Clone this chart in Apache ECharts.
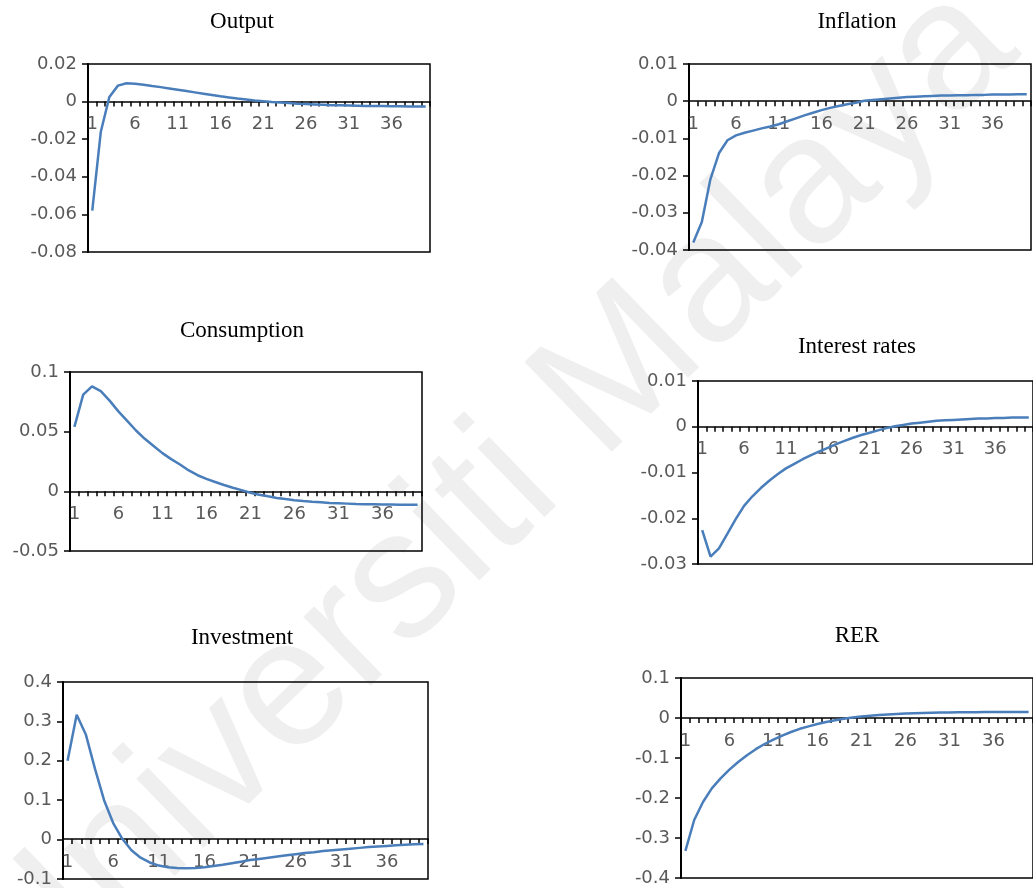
<!DOCTYPE html>
<html>
<head>
<meta charset="utf-8">
<title>Impulse responses</title>
<script src="https://cdn.jsdelivr.net/npm/echarts@6/dist/echarts.min.js"></script>
<style>
    html, body { margin: 0; padding: 0; background: #fff; }
    #main { width: 1033px; height: 888px; }
</style>
</head>
<body>
<div id="main"></div>
<script>
// periods 1..40
var periods = [];
for (var p = 1; p <= 40; p++) periods.push(p);

var titles = ['Output', 'Inflation', 'Consumption', 'Interest rates', 'Investment', 'RER'];

var output = [-0.058, -0.016, 0.0025, 0.0085, 0.0098, 0.0095, 0.009, 0.0083, 0.0077, 0.007,
    0.0063, 0.0056, 0.0049, 0.0042, 0.0035, 0.0028, 0.0022, 0.0016, 0.0011, 0.0006,
    0.0002, -0.0002, -0.0005, -0.0008, -0.0011, -0.0013, -0.0015, -0.0017, -0.0019, -0.002,
    -0.0021, -0.0022, -0.0023, -0.0024, -0.0024, -0.0025, -0.0025, -0.0026, -0.0026, -0.0026];

var inflation = [-0.038, -0.0325, -0.021, -0.014, -0.0105, -0.0092, -0.0085, -0.0079, -0.0073, -0.0068,
    -0.0062, -0.0054, -0.0046, -0.0038, -0.0031, -0.0024, -0.0018, -0.0013, -0.0008, -0.0004,
    0.0001, 0.0003, 0.0005, 0.0007, 0.0009, 0.0011, 0.0012, 0.0013, 0.0014, 0.0015,
    0.0015, 0.0016, 0.0016, 0.0017, 0.0017, 0.0018, 0.0018, 0.0018, 0.0019, 0.0019];

var consumption = [0.054, 0.081, 0.088, 0.084, 0.076, 0.067, 0.059, 0.051, 0.044, 0.038,
    0.032, 0.027, 0.0225, 0.0175, 0.0135, 0.0105, 0.0078, 0.0053, 0.003, 0.001,
    -0.0012, -0.0028, -0.0042, -0.0055, -0.0065, -0.0074, -0.0081, -0.0087, -0.0092, -0.0097,
    -0.01, -0.0103, -0.0106, -0.0108, -0.0109, -0.011, -0.0111, -0.0112, -0.0112, -0.0113];

var interest = [-0.0226, -0.0284, -0.0266, -0.0234, -0.0202, -0.0173, -0.0152, -0.0134, -0.0118, -0.0104,
    -0.0091, -0.0081, -0.0071, -0.0062, -0.0054, -0.0046, -0.0038, -0.0031, -0.0024, -0.0018,
    -0.0013, -0.0008, -0.0003, 0.0001, 0.0004, 0.0007, 0.0009, 0.0011, 0.0013, 0.0014,
    0.0015, 0.0016, 0.0017, 0.0018, 0.0018, 0.0019, 0.0019, 0.002, 0.002, 0.002];

var investment = [0.2, 0.317, 0.267, 0.18, 0.1, 0.042, 0.002, -0.027, -0.046, -0.058,
    -0.066, -0.07, -0.072, -0.0725, -0.072, -0.07, -0.067, -0.064, -0.06, -0.056,
    -0.052, -0.049, -0.046, -0.043, -0.04, -0.037, -0.034, -0.032, -0.029, -0.027,
    -0.025, -0.023, -0.021, -0.019, -0.0175, -0.016, -0.0145, -0.013, -0.012, -0.011];

var rer = [-0.332, -0.255, -0.21, -0.176, -0.151, -0.129, -0.11, -0.093, -0.078, -0.065,
    -0.054, -0.044, -0.035, -0.027, -0.021, -0.015, -0.01, -0.0055, -0.002, 0.001,
    0.0035, 0.0055, 0.0072, 0.0087, 0.01, 0.011, 0.0118, 0.0125, 0.013, 0.0135,
    0.0138, 0.0141, 0.0143, 0.0145, 0.0147, 0.0148, 0.0149, 0.015, 0.015, 0.015];

var seriesData = [output, inflation, consumption, interest, investment, rer];

// y axis ranges [min, max, step]
var yMin = [-0.08, -0.04, -0.05, -0.03, -0.1, -0.4];
var yMax = [0.02, 0.01, 0.1, 0.01, 0.4, 0.1];
var yStep = [0.02, 0.01, 0.05, 0.01, 0.1, 0.1];

// panel boxes: left, top, width, height, title x, title y
var boxes = [
    [88, 64, 342, 188, 242, 22],
    [689, 64, 342, 186, 857, 22],
    [70, 372, 352, 179, 242, 331],
    [698, 381, 342, 183, 857, 347],
    [63, 682, 365, 200, 242, 638],
    [681, 678, 358, 200, 857, 636]
];

var labelColor = '#595959';
var labelFont = 'DejaVu Sans';

var grids = [], xAxes = [], yAxes = [], series = [], graphics = [];

// watermark
graphics.push({
    type: 'text',
    x: 490,
    y: 500,
    rotation: 0.77,
    z: -10,
    silent: true,
    style: {
        text: 'Universiti Malaya',
        fill: '#efefef',
        font: '182px "Liberation Sans"',
        textAlign: 'center',
        textVerticalAlign: 'middle'
    }
});

for (var i = 0; i < 6; i++) {
    var b = boxes[i];
    // the category axis sits on the zero line, labels included
    var zeroOffset = -b[3] * (0 - yMin[i]) / (yMax[i] - yMin[i]);
    grids.push({
        left: b[0], top: b[1], width: b[2], height: b[3],
        show: true,
        borderColor: '#000',
        borderWidth: 1.5,
        backgroundColor: 'transparent'
    });
    xAxes.push({
        type: 'category',
        gridIndex: i,
        data: periods,
        boundaryGap: true,
        offset: zeroOffset,
        axisLine: { onZero: false, lineStyle: { color: '#000', width: 1.5 } },
        axisTick: { show: true, interval: 0, length: 5, lineStyle: { color: '#000', width: 1.5 } },
        axisLabel: { interval: 4, color: labelColor, fontSize: 18, fontFamily: labelFont, margin: 14 },
        splitLine: { show: false }
    });
    yAxes.push({
        type: 'value',
        gridIndex: i,
        min: yMin[i],
        max: yMax[i],
        interval: yStep[i],
        axisLine: { show: true, lineStyle: { color: '#000', width: 2 } },
        axisTick: { show: true, length: 6, lineStyle: { color: '#000', width: 1.5 } },
        axisLabel: { color: labelColor, fontSize: 18, fontFamily: labelFont, margin: 11 },
        splitLine: { show: false }
    });
    series.push({
        type: 'line',
        xAxisIndex: i,
        yAxisIndex: i,
        data: seriesData[i],
        symbol: 'none',
        smooth: false,
        lineStyle: { color: '#4a7ebb', width: 2.5 }
    });
    graphics.push({
        type: 'text',
        x: b[4],
        y: b[5],
        style: {
            text: titles[i],
            fill: '#000',
            font: '23px "Liberation Serif"',
            textAlign: 'center',
            textVerticalAlign: 'middle'
        }
    });
}

var myChart = echarts.init(document.getElementById('main'));
var option = {
    animation: false,
    backgroundColor: '#fff',
    graphic: graphics,
    grid: grids,
    xAxis: xAxes,
    yAxis: yAxes,
    series: series
};
myChart.setOption(option);
</script>
</body>
</html>
